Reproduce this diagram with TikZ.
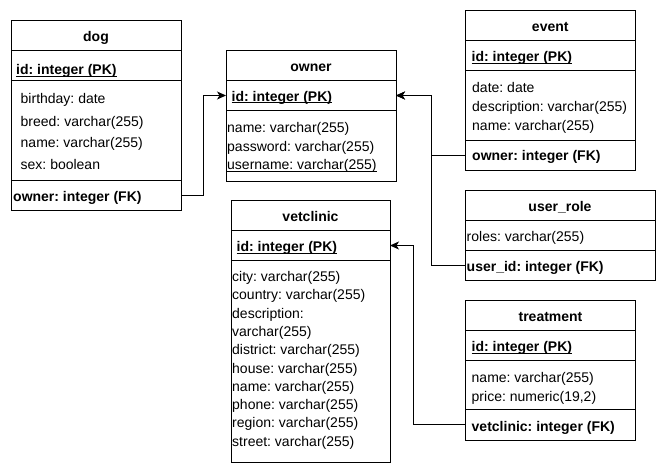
\documentclass[tikz,border=0pt]{standalone}
\usepackage{fontspec}
\setmainfont{Liberation Sans}
\usetikzlibrary{arrows.meta}
\frenchspacing
% underline sitting just under the baseline, as used for key columns
\newcommand{\keyline}[1]{\setbox0\hbox{#1}\rlap{\rule[-1.9pt]{\wd0}{0.9pt}}\box0}
\begin{document}
\begin{tikzpicture}[x=1pt,y=-1pt,
  font=\fontsize{14}{16}\selectfont,
  part/.style={draw, line width=1pt, anchor=north west, inner sep=0pt, outer sep=0pt},
  ttl/.style={anchor=base, inner sep=0pt, font=\fontsize{14}{16}\selectfont\bfseries},
  row/.style={anchor=base west, inner sep=0pt, font=\fontsize{14}{16}\selectfont},
  key/.style={row, font=\fontsize{14}{16}\selectfont\bfseries},
  fk/.style={line width=1pt, -{Stealth[length=9pt,width=8pt,inset=2.5pt]}}]
\useasboundingbox (0,0) rectangle (666,472);

% ---------- dog ----------
\node[part, minimum width=170pt, minimum height=30pt]  (dog-t)  at (11,20) {};
\node[part, minimum width=170pt, minimum height=30pt]  (dog-pk) at (11,50) {};
\node[part, minimum width=170pt, minimum height=100pt] (dog-a)  at (11,80) {};
\node[part, minimum width=170pt, minimum height=30pt]  (dog-fk) at (11,180) {};
\node[ttl] (dog-tt) at (96,41.5) {dog};
\node[key] (dog-id) at (16,74.5) {\keyline{id: integer (PK)}};
\node[row] (dog-r1) at (20.5,103.5) {birthday: date};
\node[row] (dog-r2) at (20.5,126) {breed: varchar(255)};
\node[row] (dog-r3) at (20.5,147.5) {name: varchar(255)};
\node[row] (dog-r4) at (20.5,169.5) {sex: boolean};
\node[key] (dog-own) at (13,201) {owner: integer (FK)};

% ---------- owner ----------
\node[part, minimum width=170pt, minimum height=30.5pt] (owner-t)  at (226,50) {};
\node[part, minimum width=170pt, minimum height=30pt]   (owner-pk) at (226,80.5) {};
\node[part, minimum width=170pt, minimum height=71pt]   (owner-a)  at (226,110.5) {};
\node[ttl] (owner-tt) at (311,71) {owner};
\node[key] (owner-id) at (231.5,101) {\keyline{id: integer (PK)}};
\node[row] (owner-r1) at (227,132.5) {name: varchar(255)};
\node[row] (owner-r2) at (227,151) {password: varchar(255)};
\node[row] (owner-r3) at (227,169.5) {\keyline{username: varchar(255)}};

% ---------- event ----------
\node[part, minimum width=169.5pt, minimum height=30.5pt] (event-t)  at (465.5,10) {};
\node[part, minimum width=169.5pt, minimum height=30pt]   (event-pk) at (465.5,40.5) {};
\node[part, minimum width=169.5pt, minimum height=70pt]   (event-a)  at (465.5,70.5) {};
\node[part, minimum width=169.5pt, minimum height=30pt]   (event-fk) at (465.5,140.5) {};
\node[ttl] (event-tt) at (550.25,31) {event};
\node[key] (event-id) at (471.5,61.5) {\keyline{id: integer (PK)}};
\node[row] (event-r1) at (472,92.5) {date: date};
\node[row] (event-r2) at (472,111.5) {description: varchar(255)};
\node[row] (event-r3) at (472,130) {name: varchar(255)};
\node[key] (event-own) at (472,160) {owner: integer (FK)};

% ---------- user_role ----------
\node[part, minimum width=190pt, minimum height=30.5pt] (role-t)  at (465,190) {};
\node[part, minimum width=190pt, minimum height=30pt]   (role-a)  at (465,220.5) {};
\node[part, minimum width=190pt, minimum height=29.5pt] (role-fk) at (465,250.5) {};
\node[ttl] (role-tt) at (560,211) {user\_role};
\node[row] (role-r1) at (466.5,241) {roles: varchar(255)};
\node[key] (role-uid) at (466.5,271) {user\_id: integer (FK)};

% ---------- vetclinic ----------
\node[part, minimum width=159pt, minimum height=30.5pt] (vet-t)  at (231,200) {};
\node[part, minimum width=159pt, minimum height=30pt]   (vet-pk) at (231,230.5) {};
\node[part, minimum width=159pt, minimum height=202pt]  (vet-a)  at (231,260.5) {};
\node[ttl] (vet-tt) at (310.5,221) {vetclinic};
\node[key] (vet-id) at (236.5,251.5) {\keyline{id: integer (PK)}};
\node[row] (vet-r1)  at (232,281.5) {city: varchar(255)};
\node[row] (vet-r2)  at (232,299.8) {country: varchar(255)};
\node[row] (vet-r3)  at (232,318.1) {description:};
\node[row] (vet-r3b) at (232,336.4) {varchar(255)};
\node[row] (vet-r4)  at (232,354.7) {district: varchar(255)};
\node[row] (vet-r5)  at (232,373)   {house: varchar(255)};
\node[row] (vet-r6)  at (232,391.3) {name: varchar(255)};
\node[row] (vet-r7)  at (232,409.6) {phone: varchar(255)};
\node[row] (vet-r8)  at (232,427.9) {region: varchar(255)};
\node[row] (vet-r9)  at (232,446.2) {street: varchar(255)};

% ---------- treatment ----------
\node[part, minimum width=170pt, minimum height=30.5pt] (treat-t)  at (465.5,300) {};
\node[part, minimum width=170pt, minimum height=30pt]   (treat-pk) at (465.5,330.5) {};
\node[part, minimum width=170pt, minimum height=48.5pt] (treat-a)  at (465.5,360.5) {};
\node[part, minimum width=170pt, minimum height=31pt]   (treat-fk) at (465.5,409) {};
\node[ttl] (treat-tt) at (550.5,321.5) {treatment};
\node[key] (treat-id) at (471.5,351.5) {\keyline{id: integer (PK)}};
\node[row] (treat-r1) at (471.5,382) {name: varchar(255)};
\node[row] (treat-r2) at (471.5,401.5) {price: numeric(19,2)};
\node[key] (treat-vc) at (471.5,431) {vetclinic: integer (FK)};

% ---------- foreign keys ----------
\draw[fk] (dog-fk.east) -- ++(22,0) |- (owner-pk.west);
\draw[fk] (event-fk.west) -- ++(-34.5,0) |- (owner-pk.east);
\draw[fk] (role-fk.west) -- ++(-34,0) |- (owner-pk.east);
\draw[fk] (treat-fk.west) -- ++(-52,0) |- (vet-pk.east);
\end{tikzpicture}
\end{document}
